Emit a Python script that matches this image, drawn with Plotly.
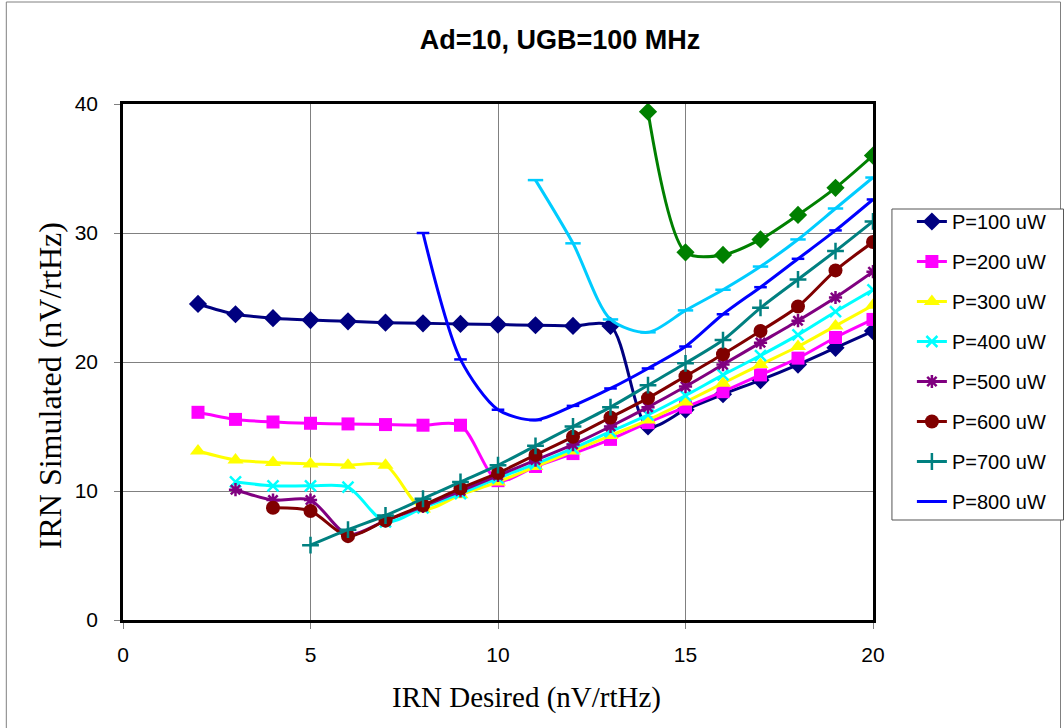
import plotly.graph_objects as go

p100_x = list(range(2, 21))
p100_y = [24.5, 23.7, 23.4, 23.25, 23.15, 23.05, 23.0, 22.95, 22.9, 22.85, 22.8, 22.8,
          15.0, 16.3, 17.5, 18.6, 19.8, 21.1, 22.4]

p200_x = list(range(2, 21))
p200_y = [16.1, 15.55, 15.35, 15.25, 15.2, 15.15, 15.1, 15.1, 10.8, 11.9, 12.9, 14.0,
          15.3, 16.5, 17.7, 19.0, 20.3, 21.9, 23.3]

p300_x = list(range(2, 21))
p300_y = [13.1, 12.4, 12.2, 12.1, 12.0, 12.0, 8.6, 9.7, 10.7, 11.9, 13.1, 14.3,
          15.5, 16.9, 18.35, 19.8, 21.2, 22.8, 24.4]

p400_x = list(range(3, 21))
p400_y = [10.7, 10.4, 10.4, 10.3, 7.6, 8.7, 9.8, 11.0, 12.1, 13.3, 14.6,
          15.9, 17.4, 19.0, 20.5, 22.1, 23.9, 25.6]

p500_x = list(range(3, 21))
p500_y = [10.1, 9.3, 9.3, 6.6, 7.7, 8.8, 10.0, 11.2, 12.4, 13.6, 15.0,
          16.5, 18.1, 19.8, 21.5, 23.2, 25.0, 27.0]

p600_x = list(range(4, 21))
p600_y = [8.7, 8.45, 6.5, 7.7, 8.9, 10.2, 11.4, 12.8, 14.2, 15.7,
          17.2, 18.9, 20.6, 22.4, 24.3, 27.1, 29.3]

p700_x = list(range(5, 21))
p700_y = [5.8, 7.0, 8.1, 9.4, 10.7, 12.0, 13.5, 15.0, 16.5,
          18.2, 19.9, 21.7, 24.2, 26.4, 28.6, 30.9]

p800_x = list(range(8, 21))
p800_y = [30.0, 20.2, 16.3, 15.5, 16.6, 17.95, 19.5, 21.2, 23.7, 25.8, 28.0, 30.2, 32.6]

p900_x = list(range(11, 21))
p900_y = [34.1, 29.2, 23.3, 22.3, 24.0, 25.6, 27.4, 29.5, 31.9, 34.3]

p1000_x = list(range(14, 21))
p1000_y = [39.4, 28.5, 28.3, 29.5, 31.4, 33.5, 36.0]

title_text = "<b>Ad=10, UGB=100 MHz</b>"
x_title = "IRN Desired (nV/rtHz)"
y_title = "IRN Simulated (nV/rtHz)"

series = [
    ("P=100 uW", p100_x, p100_y, "#000080", "diamond", 14, True),
    ("P=200 uW", p200_x, p200_y, "#FF00FF", "square", 13, True),
    ("P=300 uW", p300_x, p300_y, "#FFFF00", "triangle-up", 14, True),
    ("P=400 uW", p400_x, p400_y, "#00FFFF", "x-thin", 11, True),
    ("P=500 uW", p500_x, p500_y, "#800080", "asterisk", 11, True),
    ("P=600 uW", p600_x, p600_y, "#800000", "circle", 14, True),
    ("P=700 uW", p700_x, p700_y, "#008080", "cross-thin", 12, True),
    ("P=800 uW", p800_x, p800_y, "#0000FF", "line-ew", 9, True),
    ("P=900 uW", p900_x, p900_y, "#00CCFF", "line-ew", 11, False),
    ("P=1000 uW", p1000_x, p1000_y, "#008000", "diamond", 14, False),
]

fig = go.Figure()
for i, (name, xs, ys, col, sym, sz, show) in enumerate(series):
    thin = sym in ("x-thin", "asterisk", "cross-thin", "line-ew")
    fig.add_trace(go.Scatter(
        x=xs, y=ys, name=name, mode="lines+markers",
        line=dict(color=col, width=3, shape="spline", smoothing=0.8),
        marker=dict(symbol=sym, size=sz, color=col,
                    line=dict(color=col, width=2.5 if thin else 0)),
        showlegend=show, legendgroup=f"g{i}",
    ))

L, R, T, B = 123, 875, 104, 620
W, H = R - L, B - T

def px_x(p):
    return (p - L) / W

def px_y(p):
    return (B - p) / H

fig.update_layout(
    width=1064, height=728,
    margin=dict(l=L, r=1064 - R, t=T, b=728 - B),
    paper_bgcolor="white", plot_bgcolor="white",
    title=dict(text=title_text, x=560/1064, xanchor="center",
               y=1 - 40/728, yanchor="middle",
               font=dict(family="Liberation Sans, Arial", size=27, color="black")),
    font=dict(family="Liberation Sans, Arial", color="black"),
    xaxis=dict(range=[0, 20], dtick=5, tick0=0, showgrid=True, gridcolor="#808080", gridwidth=1,
               showline=True, mirror=True, linecolor="black", linewidth=2.5,
               ticks="outside", ticklen=6, tickcolor="#808080", ticklabelstandoff=8,
               tickfont=dict(family="Liberation Sans, Arial", size=21),
               zeroline=False),
    yaxis=dict(range=[0, 40], dtick=10, tick0=0, showgrid=True, gridcolor="#808080", gridwidth=1,
               showline=True, mirror=True, linecolor="black", linewidth=2.5,
               ticks="outside", ticklen=6, tickcolor="#808080", ticklabelstandoff=12,
               tickfont=dict(family="Liberation Sans, Arial", size=21),
               zeroline=False),
    legend=dict(x=px_x(914), xanchor="left", y=px_y(202), yanchor="top",
                borderwidth=0, bgcolor="rgba(0,0,0,0)",
                font=dict(family="Liberation Sans, Arial", size=20),
                tracegroupgap=11, traceorder="grouped"),
    annotations=[
        dict(text=x_title, xref="paper", yref="paper", x=px_x(528), y=px_y(697),
             xanchor="center", yanchor="middle", showarrow=False,
             font=dict(family="Liberation Serif, Times New Roman", size=29, color="black")),
        dict(text=y_title, xref="paper", yref="paper", x=px_x(50), y=px_y(386),
             xanchor="center", yanchor="middle", showarrow=False, textangle=-90,
             font=dict(family="Liberation Serif, Times New Roman", size=32, color="black")),
    ],
    shapes=[
        dict(type="rect", xref="paper", yref="paper",
             x0=px_x(6), x1=px_x(1063), y0=px_y(735), y1=px_y(2),
             line=dict(color="#808080", width=1), layer="below"),
        dict(type="rect", xref="paper", yref="paper",
             x0=px_x(894), x1=px_x(1066), y0=px_y(520), y1=px_y(209),
             line=dict(color="#555555", width=1), fillcolor="white", layer="below"),
    ],
)

fig.write_html("out.html")
